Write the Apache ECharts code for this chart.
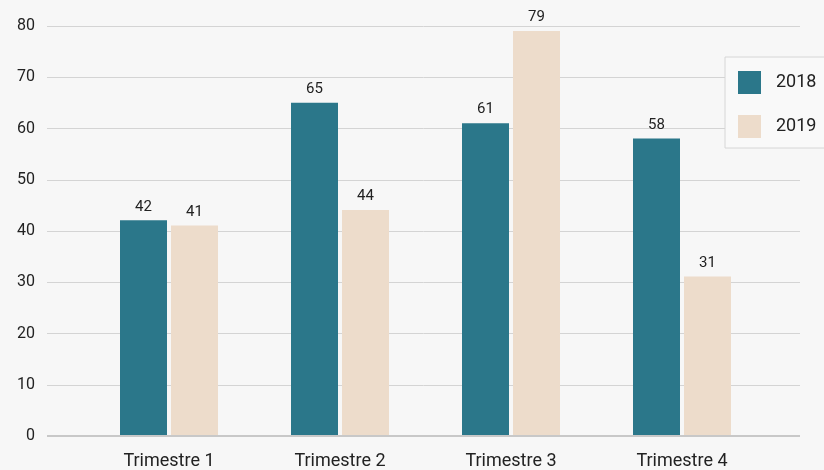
<!DOCTYPE html>
<html>
<head>
<meta charset="utf-8">
<script src="https://cdn.jsdelivr.net/npm/echarts@6/dist/echarts.min.js"></script>
<style>
  html, body { margin: 0; padding: 0; background: #f7f7f7; }
  #chart { width: 824px; height: 470px; }
</style>
</head>
<body>
<div id="chart"></div>
<script>
const categories = ["Trimestre 1", "Trimestre 2", "Trimestre 3", "Trimestre 4"];
const values2018 = [42, 65, 61, 58];
const values2019 = [41, 44, 79, 31];
const yTicks = [0, 10, 20, 30, 40, 50, 60, 70, 80];

const chart = echarts.init(document.getElementById("chart"));
const font = "Roboto";
const barLabel = {
  show: true,
  position: "top",
  distance: 6,
  color: "#222",
  fontSize: 15,
  fontFamily: font,
};
chart.setOption({
  backgroundColor: "#f7f7f7",
  animation: false,
  legend: {
    orient: "vertical",
    left: 725,
    top: 57,
    padding: [14, 14, 10, 13],
    itemWidth: 23,
    itemHeight: 23,
    itemGap: 21,
    icon: "rect",
    borderColor: "#d6d6d6",
    borderWidth: 1,
    backgroundColor: "#f9f9f9",
    textStyle: { fontFamily: font, fontSize: 18, color: "#222", padding: [0, 0, 0, 10] },
    data: ["2018", "2019"],
  },
  grid: [
    // grid for gridlines and y labels
    { left: 47, right: 24, top: 26, bottom: 34 },
    // grid for the bars
    { left: 83.5, right: 56.5, top: 26, bottom: 34 },
  ],
  xAxis: [
    { gridIndex: 0, type: "value", show: false, min: 0, max: 1 },
    {
      gridIndex: 1,
      type: "category",
      data: categories,
      axisLine: { show: false },
      axisTick: { show: false },
      axisLabel: { color: "#222", fontFamily: font, fontSize: 18, margin: 17 },
    },
  ],
  yAxis: [
    {
      gridIndex: 0,
      type: "value",
      min: yTicks[0],
      max: yTicks[yTicks.length - 1],
      interval: 10,
      axisLine: { show: false },
      axisTick: { show: false },
      axisLabel: { color: "#222", fontFamily: font, fontSize: 16, margin: 12 },
      splitLine: { lineStyle: { color: "#d4d4d4", width: 1 } },
    },
    {
      gridIndex: 1,
      type: "value",
      min: yTicks[0],
      max: yTicks[yTicks.length - 1],
      interval: 10,
      show: false,
      splitLine: { show: false },
    },
  ],
  series: [
    {
      // zero baseline
      type: "line",
      xAxisIndex: 0,
      yAxisIndex: 0,
      data: [[0, 0], [1, 0]],
      symbol: "none",
      lineStyle: { color: "#c8c8c8", width: 2 },
      silent: true,
      z: 1,
    },
    {
      name: "2018",
      type: "bar",
      xAxisIndex: 1,
      yAxisIndex: 1,
      data: values2018,
      barWidth: 47,
      barGap: "8.5%",
      itemStyle: { color: "#2b778a" },
      label: barLabel,
      z: 3,
    },
    {
      name: "2019",
      type: "bar",
      xAxisIndex: 1,
      yAxisIndex: 1,
      data: values2019,
      barWidth: 47,
      barGap: "8.5%",
      itemStyle: { color: "#eddccb" },
      label: barLabel,
      z: 3,
    },
  ],
});
</script>
</body>
</html>
